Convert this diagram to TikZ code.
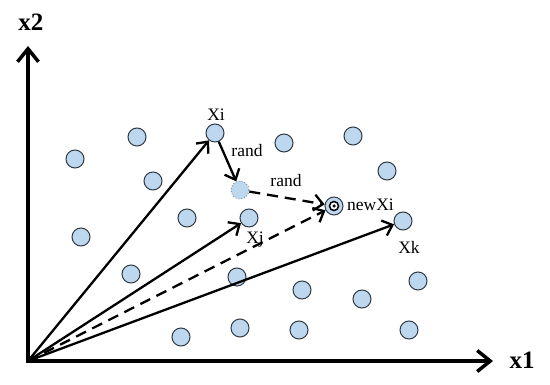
\documentclass[tikz,border=0pt]{standalone}
\usepackage{fontspec}
\setmainfont{Liberation Serif}
\usetikzlibrary{arrows.meta}
\definecolor{ptfill}{HTML}{BDD7EE}
\definecolor{ptdraw}{HTML}{2F3A45}
\begin{document}
\begin{tikzpicture}[x=1pt,y=-1pt,
  pt/.style={circle,fill=ptfill,draw=ptdraw,line width=1pt,minimum size=18pt,inner sep=0pt},
  randpt/.style={circle,fill=ptfill,draw=ptdraw!60,dotted,line width=0.9pt,minimum size=18pt,inner sep=0pt},
  axis/.style={line width=3.5pt,-{Straight Barb[length=13pt,width=21pt,line width=3.5pt]}},
  vec/.style={line width=2.3pt,-{Straight Barb[length=9pt,width=16pt,line width=2.3pt]}},
  dvec/.style={vec,dash pattern=on 11pt off 7pt},
  lbl/.style={font=\fontsize{17.5}{19}\selectfont,inner sep=0pt},
  axlbl/.style={font=\fontsize{25}{27}\selectfont\bfseries,inner sep=0pt}]
\useasboundingbox (0,0) rectangle (550,385);
% axes
\coordinate (O) at (28,361);
\coordinate (ytip) at (28,46);
\coordinate (xtip) at (493,361);
\draw[axis] (28,362.75) -- (ytip);
\draw[axis] (26.25,361) -- (xtip);
\node[axlbl] (x2) at (31,22) {x2};
\node[axlbl] (x1) at (522,360) {x1};
% points
\node[pt] (p1) at (75,159) {};
\node[pt] (p2) at (137,137) {};
\node[pt] (p3) at (153,181) {};
\node[pt] (xi) at (215,133) {};
\node[pt] (p5) at (284,143) {};
\node[pt] (p6) at (353,136) {};
\node[pt] (p7) at (387,171) {};
\node[randpt] (r) at (240,190) {};
\node[pt] (p9) at (187,218) {};
\node[pt] (xj) at (249,218) {};
\node[pt] (xk) at (403,221) {};
\node[pt] (p12) at (81,237) {};
\node[pt] (p13) at (131,274) {};
\node[pt] (p14) at (237,277) {};
\node[pt] (p15) at (302,290) {};
\node[pt] (p16) at (362,299) {};
\node[pt] (p17) at (418,281) {};
\node[pt] (p18) at (181,337) {};
\node[pt] (p19) at (240,328) {};
\node[pt] (p20) at (299,330) {};
\node[pt] (p21) at (409,330) {};
% newXi
\node[pt] (nx) at (334,206) {};
\node[circle,fill=white,draw=black,line width=1.5pt,minimum size=9pt,inner sep=0pt] (nxr) at (nx) {};
\node[circle,fill=black,minimum size=3.5pt,inner sep=0pt] (nxd) at (nx) {};
% labels
\node[lbl] (lxi) at (216,115) {Xi};
\node[lbl] (lr1) at (247,151) {rand};
\node[lbl] (lr2) at (286,181) {rand};
\node[lbl,anchor=west] (lnx) at (347,205) {newXi};
\node[lbl] (lxj) at (255,240) {Xj};
\node[lbl] (lxk) at (409,247) {Xk};
% vectors
\draw[vec] (O) -- (xi);
\draw[vec] (O) -- (xj);
\draw[vec] (O) -- (xk);
\draw[dvec] (O) -- (nx);
\draw[vec] (xi) -- (r);
\draw[dvec] (r) -- (nx);
\end{tikzpicture}
\end{document}
